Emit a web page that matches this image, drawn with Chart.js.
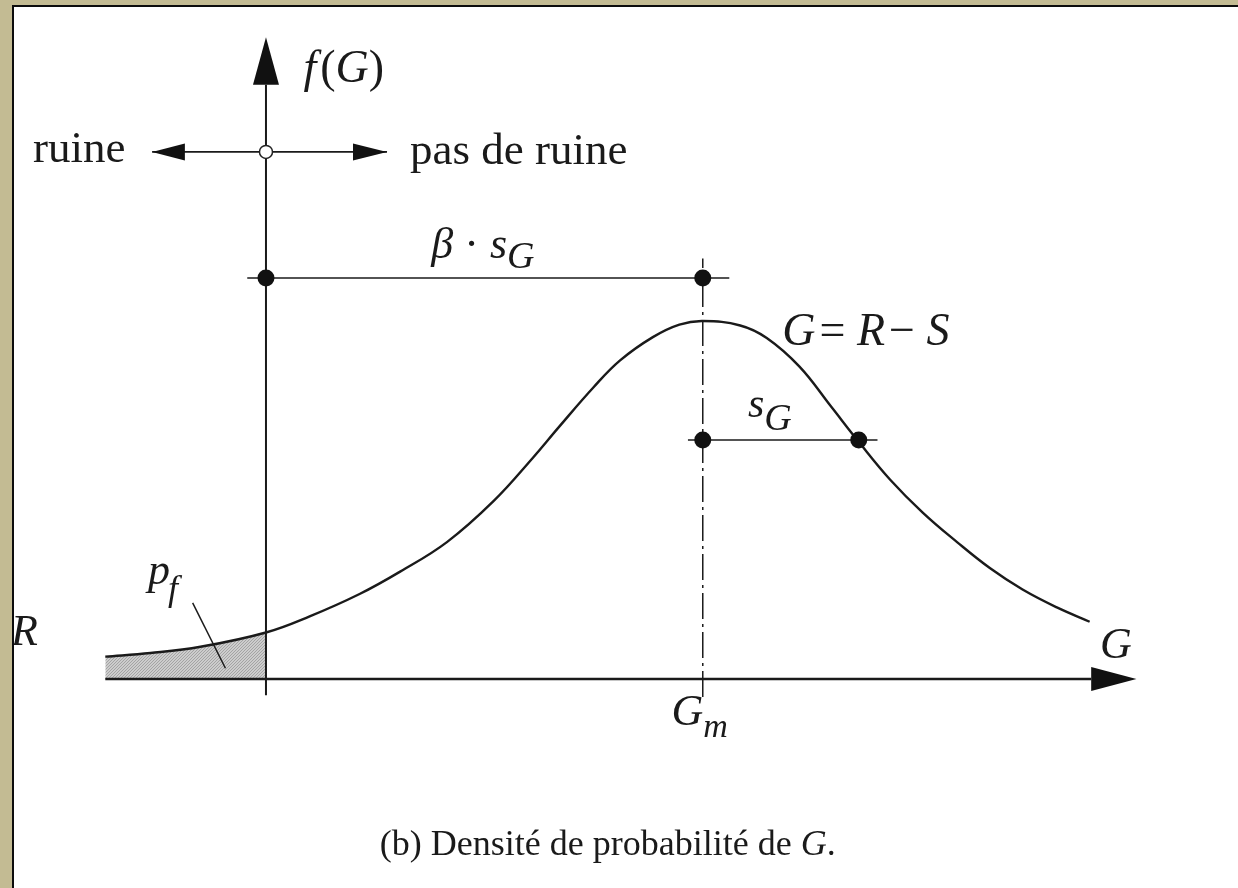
<!DOCTYPE html>
<html>
<head>
<meta charset="utf-8">
<script src="https://cdn.jsdelivr.net/npm/chart.js@4.4.1/dist/chart.umd.min.js"></script>
<style>
  html, body { margin: 0; padding: 0; background: #fff; }
  #graf { display: block; }
</style>
</head>
<body>
<canvas id="graf" width="1238" height="888"></canvas>
<script>
// courbe f(G) (G en unites de s_G, f = densite)
var curveG = [-1.03, -0.74, -0.42, 0.00, 0.28, 0.60, 0.86, 1.16, 1.46, 1.71, 1.88, 2.10, 2.27, 2.48, 2.65, 2.80, 3.04, 3.21, 3.42, 3.62, 3.80, 4.00, 4.21, 4.43, 4.64, 4.85, 5.07, 5.28];
var curveF = [0.025, 0.029, 0.036, 0.052, 0.070, 0.095, 0.120, 0.153, 0.199, 0.247, 0.282, 0.326, 0.356, 0.382, 0.396, 0.400, 0.395, 0.381, 0.349, 0.305, 0.265, 0.223, 0.186, 0.153, 0.124, 0.100, 0.080, 0.064];

var Gm = 2.8;
var sG = 1.0;
var betaF = 0.448;   // hauteur du trait beta.s_G
var sGF = 0.267;     // hauteur du trait s_G
var ruineF = 0.589;  // hauteur du trait ruine / pas de ruine

// traits (debut, fin)
var axeXG = [-1.03, 5.29];
var axeYF = [-0.018, 0.664];
var betaG = [-0.12, 2.97];
var sGG = [2.705, 3.92];
var ruineG = [-0.73, 0.776];
var gmF = [-0.020, 0.470];
var pfG = [-0.47, -0.26];
var pfF = [0.085, 0.012];

// queue de la courbe (G <= 0) -> p_f
var tailG = curveG.filter(function (g) { return g <= 0; });
var tailF = tailG.map(function (g, i) { return curveF[i]; });

function pts(xs, ys) {
    return xs.map(function (x, i) { return { x: x, y: ys[i] }; });
}

// motif grise pour p_f
function motifGris(ctx) {
    var c = document.createElement('canvas');
    c.width = 3; c.height = 3;
    var g = c.getContext('2d');
    g.fillStyle = '#cdcdcd';
    g.fillRect(0, 0, 3, 3);
    g.fillStyle = '#a4a4a4';
    g.fillRect(0, 0, 1, 1);
    g.fillRect(2, 1, 1, 1);
    g.fillRect(1, 2, 1, 1);
    return ctx.createPattern(c, 'repeat');
}

var POLICE = '"Liberation Serif", "DejaVu Serif", serif';

function texteRiche(ctx, x, y, morceaux, taille) {
    var cx = x;
    morceaux.forEach(function (m) {
        var t = m.taille || taille;
        ctx.font = (m.it ? 'italic ' : '') + t + 'px ' + POLICE;
        ctx.fillText(m.t, cx, y + (m.dy || 0));
        cx += ctx.measureText(m.t).width + (m.dx || 0);
    });
}

var fleches = [
    { tip: [5.58, 0], base: [5.29, 0], half: 12 },
    { tip: [0, 0.717], base: [0, 0.664], half: 13 },
    { tip: [-0.73, ruineF], base: [-0.52, ruineF], half: 8.5 },
    { tip: [0.776, ruineF], base: [0.558, ruineF], half: 8.5 }
];

var textes = [
    { g: -1.494, f: 0.578, taille: 45, m: [{ t: 'ruine' }] },
    { g: 0.923, f: 0.576, taille: 45, m: [{ t: 'pas de ruine' }] },
    { g: 0.24, f: 0.667, taille: 46, m: [{ t: 'f', it: 1, dx: 4 }, { t: '(' }, { t: 'G', it: 1 }, { t: ')' }] },
    { g: 1.06, f: 0.470, taille: 44, m: [{ t: 'β', it: 1 }, { t: ' · ' }, { t: 's', it: 1 }, { t: 'G', it: 1, dy: 10, taille: 38 }] },
    { g: 3.31, f: 0.373, taille: 46, m: [{ t: 'G', it: 1, dx: 4 }, { t: '= ' }, { t: 'R', it: 1, dx: 4 }, { t: '− ' }, { t: 'S', it: 1 }] },
    { g: 3.09, f: 0.293, taille: 42, m: [{ t: 's', it: 1 }, { t: 'G', it: 1, dy: 13, taille: 38 }] },
    { g: -0.756, f: 0.106, taille: 44, m: [{ t: 'p', it: 1, dx: -2 }, { t: 'f', it: 1, dy: 16, taille: 36 }] },
    { g: -1.635, f: 0.038, taille: 44, m: [{ t: 'R', it: 1 }] },
    { g: 5.346, f: 0.024, taille: 44, m: [{ t: 'G', it: 1 }] },
    { g: 2.60, f: -0.051, taille: 44, m: [{ t: 'G', it: 1 }, { t: 'm', it: 1, dy: 12, taille: 34 }] },
    { g: 0.73, f: -0.197, taille: 36, m: [{ t: '(b) Densité de probabilité de ' }, { t: 'G', it: 1 }, { t: '.' }] }
];

var dessinFigure = {
    id: 'dessinFigure',
    beforeDraw: function (chart) {
        var ctx = chart.ctx;
        ctx.save();
        ctx.fillStyle = '#ffffff';
        ctx.fillRect(0, 0, chart.width, chart.height);
        ctx.restore();
    },
    afterDraw: function (chart) {
        var ctx = chart.ctx;
        var sx = chart.scales.x, sy = chart.scales.y;
        ctx.save();
        // pointes de fleches
        ctx.fillStyle = '#111';
        fleches.forEach(function (a) {
            var tx = sx.getPixelForValue(a.tip[0]), ty = sy.getPixelForValue(a.tip[1]);
            var bx = sx.getPixelForValue(a.base[0]), by = sy.getPixelForValue(a.base[1]);
            var dx = tx - bx, dy = ty - by, L = Math.sqrt(dx * dx + dy * dy);
            var nx = -dy / L * a.half, ny = dx / L * a.half;
            ctx.beginPath();
            ctx.moveTo(tx, ty);
            ctx.lineTo(bx + nx, by + ny);
            ctx.lineTo(bx - nx, by - ny);
            ctx.closePath();
            ctx.fill();
        });
        // textes
        ctx.fillStyle = '#1a1a1a';
        ctx.textBaseline = 'alphabetic';
        textes.forEach(function (t) {
            texteRiche(ctx, sx.getPixelForValue(t.g), sy.getPixelForValue(t.f), t.m, t.taille);
        });
        // cadre
        ctx.fillStyle = '#c3bb93';
        ctx.fillRect(0, 0, 12, chart.height);
        ctx.fillRect(0, 0, chart.width, 5);
        ctx.fillStyle = '#0c0c0c';
        ctx.fillRect(12, 5, 2, chart.height - 5);
        ctx.fillRect(12, 5, chart.width - 12, 2);
        ctx.restore();
    }
};

var ctx = document.getElementById('graf').getContext('2d');
var trait = { pointRadius: 0, borderColor: '#1a1a1a', fill: false, tension: 0 };

var grafico = new Chart(ctx, {
    type: 'line',
    data: {
        datasets: [
            { data: pts([0, Gm, Gm, Gm + sG], [betaF, betaF, sGF, sGF]), showLine: false, pointRadius: 8.5, pointBackgroundColor: '#111', pointBorderWidth: 0 },
            { data: pts([0], [ruineF]), showLine: false, pointRadius: 6.5, pointBackgroundColor: '#fff', pointBorderColor: '#222', pointBorderWidth: 1.5 },
            Object.assign({ data: pts(curveG, curveF), borderWidth: 2.4 }, trait, { tension: 0.4 }),
            Object.assign({ data: pts(axeXG, [0, 0]), borderWidth: 2.5 }, trait),
            Object.assign({ data: pts([0, 0], axeYF), borderWidth: 2 }, trait),
            Object.assign({ data: pts(betaG, [betaF, betaF]), borderWidth: 1.6 }, trait),
            Object.assign({ data: pts(sGG, [sGF, sGF]), borderWidth: 1.6 }, trait),
            Object.assign({ data: pts(ruineG, [ruineF, ruineF]), borderWidth: 1.6 }, trait),
            Object.assign({ data: pts([Gm, Gm], gmF), borderWidth: 1.5, borderDash: [26, 5, 3, 5] }, trait),
            Object.assign({ data: pts(pfG, pfF), borderWidth: 1.5 }, trait),
            { data: pts(tailG, tailF), pointRadius: 0, borderWidth: 0, tension: 0.4, fill: 'origin', backgroundColor: motifGris(ctx) }
        ]
    },
    options: {
        responsive: false,
        animation: false,
        events: [],
        layout: { padding: 0, autoPadding: false },
        plugins: { legend: { display: false }, tooltip: { enabled: false }, title: { display: false } },
        scales: {
            x: { type: 'linear', min: -1.705, max: 6.231, display: false },
            y: { type: 'linear', min: -0.2335, max: 0.7587, display: false }
        }
    },
    plugins: [dessinFigure]
});
</script>
</body>
</html>
